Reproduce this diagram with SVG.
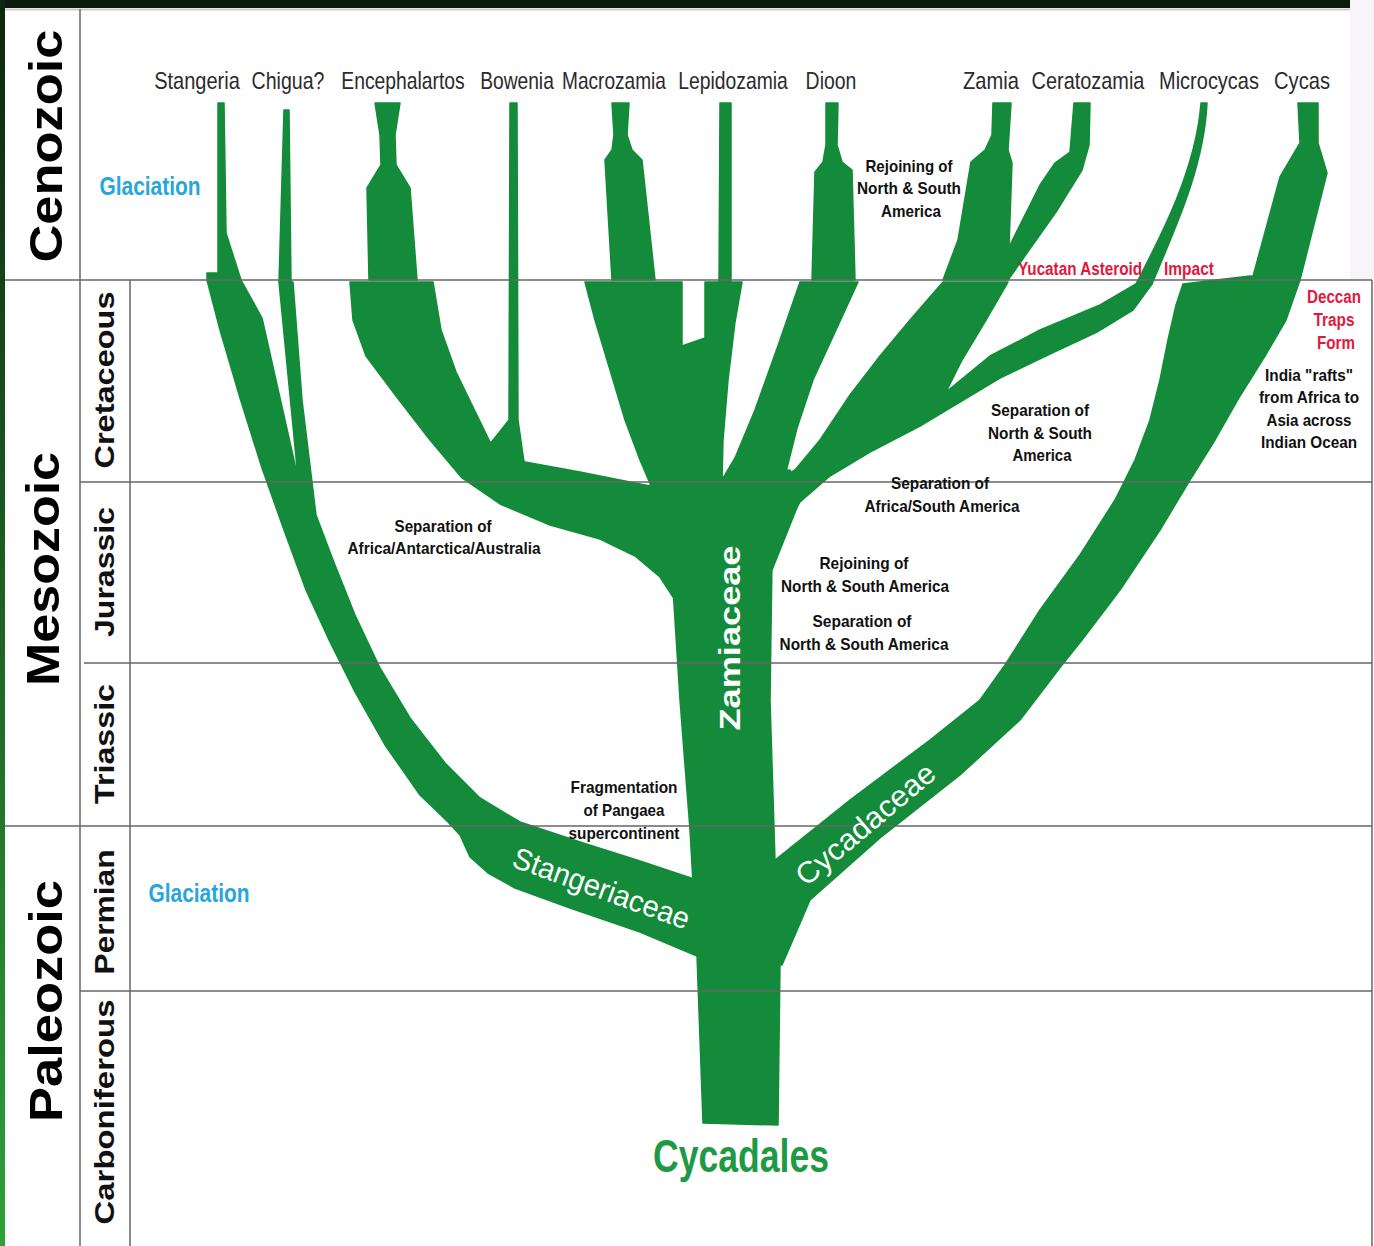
<svg xmlns="http://www.w3.org/2000/svg" width="1374" height="1246" viewBox="0 0 1374 1246">
<defs>
<linearGradient id="edge" x1="0" y1="0" x2="0" y2="1">
<stop offset="0" stop-color="#0e260f"/>
<stop offset="1" stop-color="#2fa03a"/>
</linearGradient>
<style>
.br{fill:#148b3a;stroke:#148b3a;stroke-width:1.5;stroke-linejoin:round}
.grid{stroke:#666666;stroke-width:2;opacity:0.75;fill:none}
.era{font-family:"Liberation Sans",Arial,sans-serif;font-weight:bold;font-size:47px;fill:#000}
.per{font-family:"Liberation Sans",Arial,sans-serif;font-weight:bold;font-size:28px;fill:#111}
.tip{font-family:"Liberation Sans",Arial,sans-serif;font-size:24px;fill:#2b2b2b;text-anchor:middle}
.ev{font-family:"Liberation Sans",Arial,sans-serif;font-weight:bold;font-size:17px;fill:#111}
.red{font-family:"Liberation Sans",Arial,sans-serif;font-weight:bold;font-size:18px;fill:#e3173e}
.blue{font-family:"Liberation Sans",Arial,sans-serif;font-weight:bold;font-size:25px;fill:#26a6d9}
.fam{font-family:"Liberation Sans",Arial,sans-serif;font-size:30px;fill:#fff}
</style>
</defs>
<rect x="0" y="0" width="1374" height="1246" fill="#ffffff"/>
<rect x="1350" y="0" width="24" height="280" fill="#f8f4f9"/>
<rect x="0" y="0" width="1350" height="8" fill="#0b1a0b"/>
<rect x="0" y="0" width="5" height="1246" fill="url(#edge)"/>

<g id="connectors">
<path class="br" d="M218,103 L224,103 L226,233 L241,280 L207,280 L207,273 L218,273 Z"/>
<path class="br" d="M284,110 L289,110 L291,282 L279,282 Z"/>
<path class="br" d="M207,280 L241,280 L262,318 L298,478 L279,282 L293,282 L302,400 L316,515 L333,560 L355,615 L380,668 L410,718 L445,763 L480,798 L520,822 L580,842 L640,861 L697,880 L697,956 L640,932 L570,908 L515,888 L488,873 L470,857 L460,835 L448,822 L420,795 L385,745 L355,692 L330,642 L306,590 L284,530 L262,468 L240,398 L220,330 Z"/>
<path class="br" d="M375,103 L400,103 L395,135 L396,165 L410,188 L417,280 L369,280 L367,188 L381,165 L380,135 Z"/>
<path class="br" d="M350,282 L433,282 L441,330 L456,372 L490,442 L508,452 L525,462 L580,472 L650,486 L700,500 L700,600 L675,600 L660,577 L635,556 L600,539 L550,525 L500,504 L462,478 L430,440 L396,396 L366,356 L353,320 Z"/>
<path class="br" d="M510,103 L517,103 L518,420 L524,462 L490,444 L509,420 Z"/>
<path class="br" d="M612,103 L629,103 L627,135 L632,150 L642,160 L655,280 L612,280 L605,160 L612,150 L614,135 Z"/>
<path class="br" d="M585,282 L682,282 L682,346 L705,338 L705,282 L742,282 L735,322 L728,380 L723,440 L722,480 L700,500 L652,488 L640,460 L625,420 L610,370 L595,320 Z"/>
<path class="br" d="M720,103 L731,103 L731,282 L719,282 Z"/>
<path class="br" d="M826,103 L838,103 L837,145 L842,162 L852,170 L855,280 L812,280 L815,172 L823,162 L826,145 Z"/>
<path class="br" d="M800,282 L858,282 L836,330 L813,380 L797,428 L787,468 L775,540 L722,480 L735,458 L755,410 L780,340 Z"/>
<path class="br" d="M993,103 L1011,103 L1008,150 L1012,163 L1009,247 L1040,185 L1055,163 L1070,152 L1074,103 L1090,103 L1089,145 L1082,170 L1056,212 L1008,280 L943,280 L958,240 L971,162 L985,150 L992,135 Z"/>
<path class="br" d="M943,282 L1008,282 L986,320 L962,360 L946,392 L990,356 L1040,330 L1100,305 L1136,284 L1152,284 L1133,310 L1097,332 L1050,354 L1000,378 L960,402 L920,426 L870,452 L830,476 L800,502 L785,528 L772,568 L730,520 L760,490 L795,470 L820,440 L850,395 L880,356 L910,320 Z"/>
<path class="br" d="M1201,103 L1207,103 C1204,170 1172,235 1152,284 L1136,284 C1160,238 1196,170 1201,103 Z"/>
<path class="br" d="M1298,103 L1318,103 L1318,143 L1327,173 L1300,280 L1252,280 L1280,177 L1300,143 Z"/>
<path class="br" d="M1183,284 L1250,276 L1300,280 L1286,320 L1265,356 L1240,396 L1215,440 L1190,480 L1160,530 L1120,590 L1082,640 L1062,665 L1020,720 L960,775 L880,838 L810,900 L795,935 L782,965 L760,965 L770,870 L775,860 L850,800 L930,740 L980,700 L1005,665 L1040,610 L1080,555 L1115,500 L1135,460 L1150,420 L1160,380 L1168,340 L1176,305 Z"/>
<path class="br" d="M650,485 L790,470 L800,500 L772,570 L673,590 Z"/>
<path class="br" d="M673,588 L680,700 L690,830 L697,955 L703,1123 L778,1125 L780,965 L775,860 L770,700 L772,560 L700,500 Z"/>
</g>

<g id="grid">
<line class="grid" x1="5" y1="9.5" x2="1350" y2="9.5" style="stroke:#bbbbbb"/>
<line class="grid" x1="5" y1="280" x2="1372" y2="280"/>
<line class="grid" x1="80" y1="482" x2="1372" y2="482"/>
<line class="grid" x1="84" y1="663" x2="1372" y2="663"/>
<line class="grid" x1="5" y1="826" x2="1372" y2="826"/>
<line class="grid" x1="80" y1="991" x2="1372" y2="991"/>
<line class="grid" x1="80" y1="9" x2="80" y2="1246"/>
<line class="grid" x1="130" y1="280" x2="130" y2="1246"/>
<line class="grid" x1="1372" y1="280" x2="1372" y2="1246"/>
</g>

<g id="eras">
<text class="era" transform="translate(62,146) rotate(-90)" text-anchor="middle" textLength="233" lengthAdjust="spacingAndGlyphs">Cenozoic</text>
<text class="era" transform="translate(59,569) rotate(-90)" text-anchor="middle" textLength="234" lengthAdjust="spacingAndGlyphs">Mesozoic</text>
<text class="era" transform="translate(62,1001) rotate(-90)" text-anchor="middle" textLength="242" lengthAdjust="spacingAndGlyphs">Paleozoic</text>
</g>
<g id="periods">
<text class="per" transform="translate(114,380) rotate(-90)" text-anchor="middle" textLength="177" lengthAdjust="spacingAndGlyphs">Cretaceous</text>
<text class="per" transform="translate(114,572) rotate(-90)" text-anchor="middle" textLength="130" lengthAdjust="spacingAndGlyphs">Jurassic</text>
<text class="per" transform="translate(114,744) rotate(-90)" text-anchor="middle" textLength="120" lengthAdjust="spacingAndGlyphs">Triassic</text>
<text class="per" transform="translate(114,912) rotate(-90)" text-anchor="middle" textLength="125" lengthAdjust="spacingAndGlyphs">Permian</text>
<text class="per" transform="translate(114,1112) rotate(-90)" text-anchor="middle" textLength="225" lengthAdjust="spacingAndGlyphs">Carboniferous</text>
</g>

<g id="tips">
<g id="tip-stangeria"><text class="tip" transform="translate(197,89) scale(0.835,1)">Stangeria</text></g>
<g id="tip-chigua"><text class="tip" transform="translate(288,89) scale(0.815,1)">Chigua?</text></g>
<g id="tip-encephalartos"><text class="tip" transform="translate(403,89) scale(0.805,1)">Encephalartos</text></g>
<g id="tip-bowenia"><text class="tip" transform="translate(517,89) scale(0.8,1)">Bowenia</text></g>
<g id="tip-macrozamia"><text class="tip" transform="translate(614,89) scale(0.795,1)">Macrozamia</text></g>
<g id="tip-lepidozamia"><text class="tip" transform="translate(733,89) scale(0.805,1)">Lepidozamia</text></g>
<g id="tip-dioon"><text class="tip" transform="translate(831,89) scale(0.81,1)">Dioon</text></g>
<g id="tip-zamia"><text class="tip" transform="translate(991,89) scale(0.84,1)">Zamia</text></g>
<g id="tip-ceratozamia"><text class="tip" transform="translate(1088,89) scale(0.83,1)">Ceratozamia</text></g>
<g id="tip-microcycas"><text class="tip" transform="translate(1209,89) scale(0.833,1)">Microcycas</text></g>
<g id="tip-cycas"><text class="tip" transform="translate(1302,89) scale(0.84,1)">Cycas</text></g>
</g>

<g id="families">
<g id="fam-zamiaceae"><text class="fam" font-weight="bold" font-size="31" transform="translate(740,638) rotate(-90)" text-anchor="middle" textLength="185" lengthAdjust="spacingAndGlyphs">Zamiaceae</text></g>
<g id="fam-stangeriaceae"><text class="fam" transform="translate(598,898) rotate(20)" text-anchor="middle" textLength="186" lengthAdjust="spacingAndGlyphs">Stangeriaceae</text></g>
<g id="fam-cycadaceae"><text class="fam" transform="translate(872,832) rotate(-40)" text-anchor="middle" textLength="172" lengthAdjust="spacingAndGlyphs">Cycadaceae</text></g>
<g id="root-cycadales"><text x="741" y="1172" text-anchor="middle" font-family="Liberation Sans, Arial, sans-serif" font-weight="bold" font-size="46" fill="#1e9a45" textLength="176" lengthAdjust="spacingAndGlyphs">Cycadales</text></g>
</g>

<g id="events" text-anchor="middle">
<g id="ev-glaciation1"><text class="blue" x="150" y="195" textLength="101" lengthAdjust="spacingAndGlyphs">Glaciation</text></g>
<g id="ev-glaciation2"><text class="blue" x="199" y="902" textLength="101" lengthAdjust="spacingAndGlyphs">Glaciation</text></g>
<g id="ev-yucatan"><text class="red" x="1080" y="275" textLength="124" lengthAdjust="spacingAndGlyphs">Yucatan Asteroid</text><text class="red" x="1189" y="275" textLength="50" lengthAdjust="spacingAndGlyphs">Impact</text></g>
<g id="ev-deccan"><text class="red" x="1334" y="303" textLength="54" lengthAdjust="spacingAndGlyphs">Deccan</text><text class="red" x="1334" y="326" textLength="41" lengthAdjust="spacingAndGlyphs">Traps</text><text class="red" x="1336" y="349" textLength="38" lengthAdjust="spacingAndGlyphs">Form</text></g>
<g id="ev-rejoin1"><text class="ev" x="909" y="172" textLength="87" lengthAdjust="spacingAndGlyphs">Rejoining of</text><text class="ev" x="909" y="194" textLength="104" lengthAdjust="spacingAndGlyphs">North &amp; South</text><text class="ev" x="911" y="217" textLength="60" lengthAdjust="spacingAndGlyphs">America</text></g>
<g id="ev-sep-ns1"><text class="ev" x="1040" y="416" textLength="98" lengthAdjust="spacingAndGlyphs">Separation of</text><text class="ev" x="1040" y="439" textLength="104" lengthAdjust="spacingAndGlyphs">North &amp; South</text><text class="ev" x="1042" y="461" textLength="59" lengthAdjust="spacingAndGlyphs">America</text></g>
<g id="ev-india"><text class="ev" x="1309" y="381" textLength="88" lengthAdjust="spacingAndGlyphs">India "rafts"</text><text class="ev" x="1309" y="403" textLength="100" lengthAdjust="spacingAndGlyphs">from Africa to</text><text class="ev" x="1309" y="426" textLength="85" lengthAdjust="spacingAndGlyphs">Asia across</text><text class="ev" x="1309" y="448" textLength="96" lengthAdjust="spacingAndGlyphs">Indian Ocean</text></g>
<g id="ev-sep-afsa"><text class="ev" x="940" y="489" textLength="98" lengthAdjust="spacingAndGlyphs">Separation of</text><text class="ev" x="942" y="512" textLength="155" lengthAdjust="spacingAndGlyphs">Africa/South America</text></g>
<g id="ev-sep-aaa"><text class="ev" x="443" y="532" textLength="97" lengthAdjust="spacingAndGlyphs">Separation of</text><text class="ev" x="444" y="554" textLength="193" lengthAdjust="spacingAndGlyphs">Africa/Antarctica/Australia</text></g>
<g id="ev-rejoin2"><text class="ev" x="864" y="569" textLength="89" lengthAdjust="spacingAndGlyphs">Rejoining of</text><text class="ev" x="865" y="592" textLength="168" lengthAdjust="spacingAndGlyphs">North &amp; South America</text></g>
<g id="ev-sep-ns2"><text class="ev" x="862" y="627" textLength="99" lengthAdjust="spacingAndGlyphs">Separation of</text><text class="ev" x="864" y="650" textLength="169" lengthAdjust="spacingAndGlyphs">North &amp; South America</text></g>
<g id="ev-pangaea"><text class="ev" x="624" y="793" textLength="107" lengthAdjust="spacingAndGlyphs">Fragmentation</text><text class="ev" x="624" y="816" textLength="81" lengthAdjust="spacingAndGlyphs">of Pangaea</text><text class="ev" x="624" y="839" textLength="111" lengthAdjust="spacingAndGlyphs">supercontinent</text></g>
</g>
</svg>
